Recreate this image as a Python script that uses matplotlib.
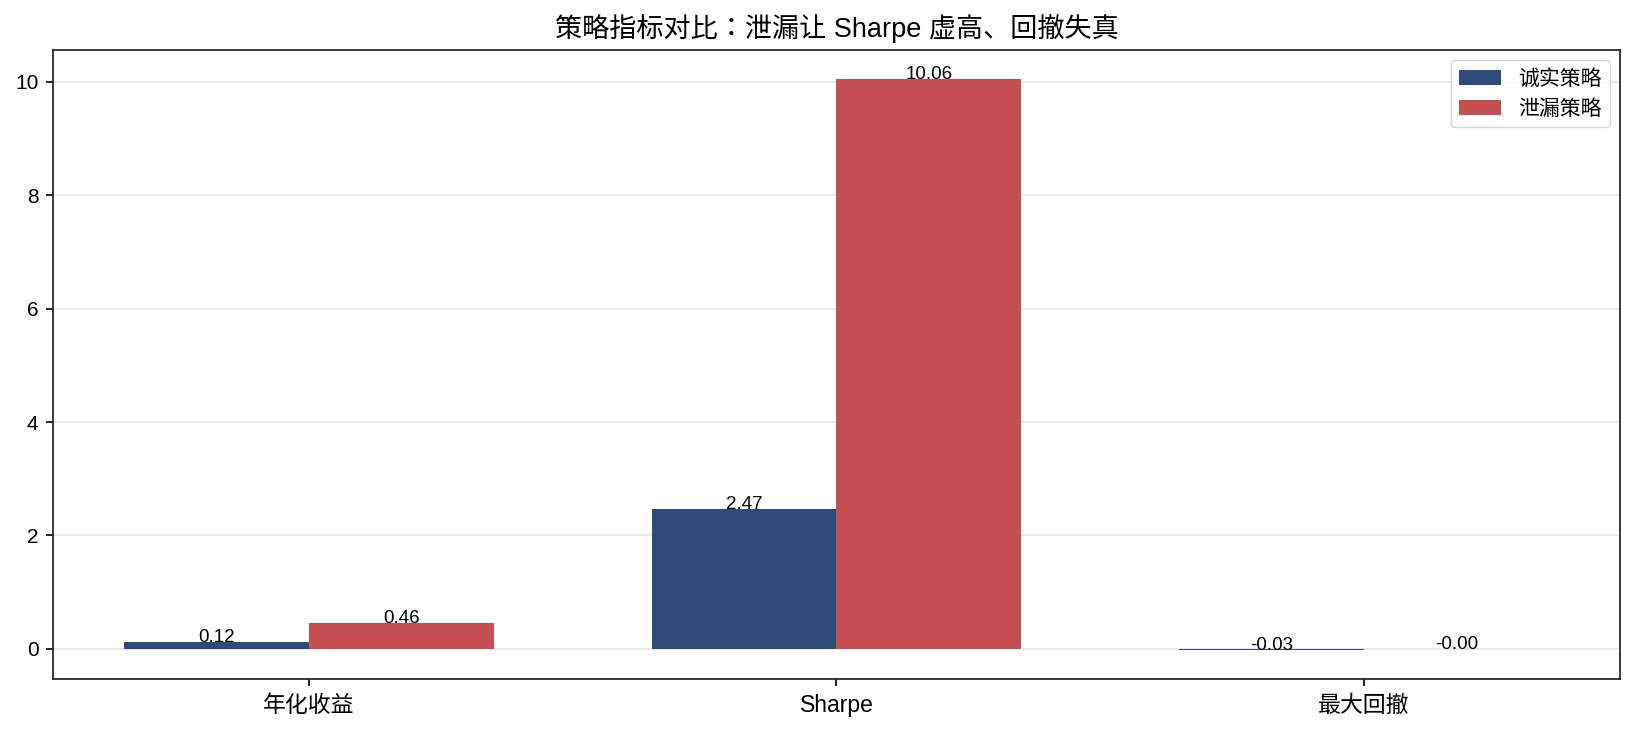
import numpy as np
import matplotlib
matplotlib.use('Agg')
import matplotlib.pyplot as plt

plt.rcParams['font.family'] = ['Liberation Sans', 'Noto Sans CJK SC', 'DejaVu Sans']
plt.rcParams['axes.unicode_minus'] = False

metrics = ['年化收益', 'Sharpe', '最大回撤']
honest = [0.12, 2.47, -0.03]
leaky = [0.46, 10.06, -0.001]
series_names = ['诚实策略', '泄漏策略']

x = np.arange(len(metrics))
w = 0.35

fig = plt.figure(figsize=(16.35, 7.34), dpi=100)
ax = fig.add_axes([0.0324, 0.0749, 0.9584, 0.857])

b1 = ax.bar(x - w/2, honest, w, color='#2f4b7c', label=series_names[0], zorder=2)
b2 = ax.bar(x + w/2, leaky, w, color='#c44e52', label=series_names[1], zorder=2)

# value labels on top of each bar
for bars, vals in [(b1, honest), (b2, leaky)]:
    for bar, v in zip(bars, vals):
        ax.text(bar.get_x() + bar.get_width()/2, v, '%.2f' % v,
                ha='center', va='baseline', fontsize=13.5, zorder=3)

ax.set_xticks(x)
ax.set_xticklabels(metrics)
ax.tick_params(axis='x', labelsize=16.5)
ax.tick_params(axis='y', labelsize=15)
ax.tick_params(axis='both', length=5.25, width=1.2, pad=5.25)
ax.grid(axis='y', color='#e6e6e6', linewidth=1.2, zorder=0)
ax.set_axisbelow(True)
for s in ax.spines.values():
    s.set_linewidth(1.25)
    s.set_color('#222222')
ax.set_title('策略指标对比：泄漏让 Sharpe 虚高、回撤失真', fontsize=19.5, pad=9,
             family=['Liberation Sans', 'Noto Sans CJK JP', 'DejaVu Sans'])
ax.legend(loc='upper right', fontsize=15)

fig.savefig('out.png', dpi=100)
